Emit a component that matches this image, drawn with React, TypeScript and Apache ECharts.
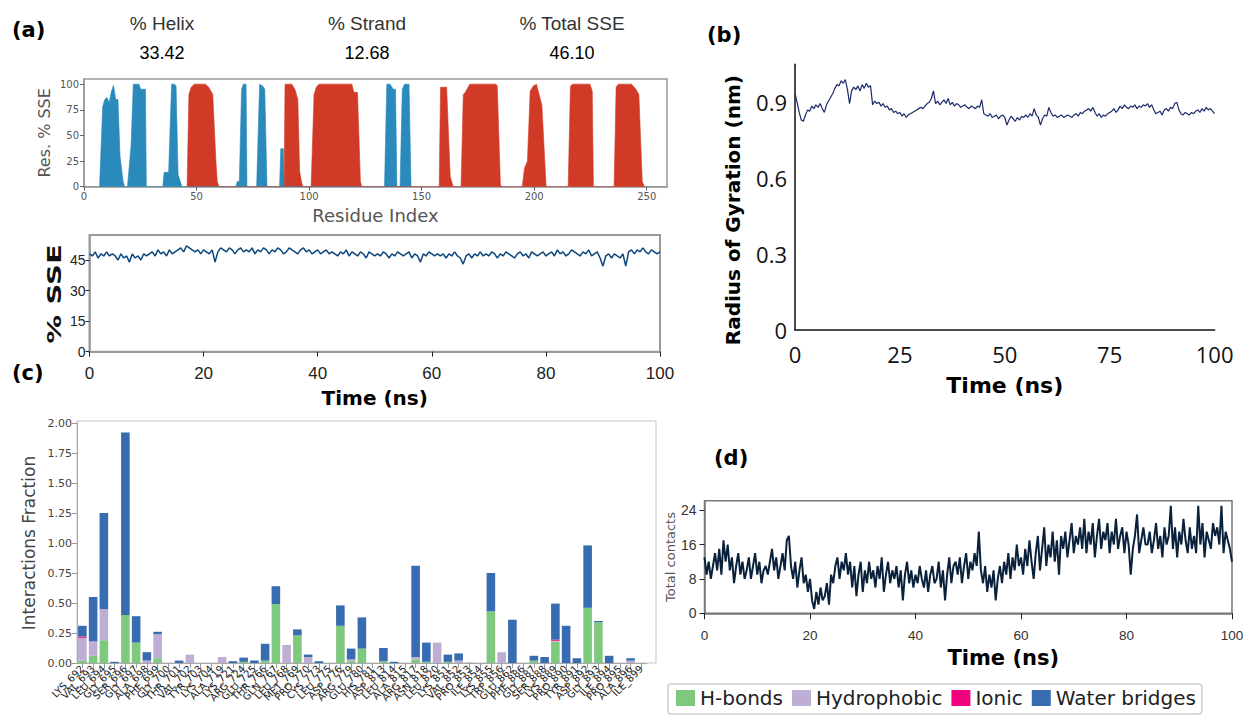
import React, { useEffect, useRef } from "react";
import * as echarts from "echarts";

// ---------- Panel (a): per-residue secondary structure profile ----------
const HELIX_PROFILE: [number, number][] = [
  [6.9, 0], [8.3, 78], [9.2, 85], [10.2, 87], [11.2, 82], [12.2, 93], [13.1, 99], [14.1, 85], [15.1, 85], [16, 30], [17.4, 5], [18, 0],
  [19.3, 0], [20.9, 40], [21.9, 100], [24.4, 100], [25.2, 95], [27.3, 95], [27.7, 0],
  [35, 0], [35.6, 14], [37.6, 14], [38.9, 100], [40.2, 100], [40.9, 98], [41.8, 12], [43.5, 0],
  [67.5, 0], [68.1, 5], [69, 5], [70, 95], [70.8, 100], [72, 100], [72.4, 0],
  [76.7, 0], [78, 100], [79.5, 98], [80.3, 95], [81.3, 0],
  [86.9, 0], [87.4, 37], [88.6, 37], [88.9, 0],
  [133.5, 0], [134.5, 100], [136, 100], [137.4, 95], [138.4, 95], [139, 0],
  [140.4, 0], [141.4, 95], [142.4, 100], [144.4, 100], [145.3, 0],
];

const STRAND_PROFILE: [number, number][] = [
  [45.8, 0], [46.6, 90], [47.6, 97], [49, 100], [54, 100], [55.4, 97], [57.2, 90], [58.6, 25], [59.2, 5], [60, 0],
  [88.9, 0], [89.3, 100], [92.3, 100], [93.7, 95], [95, 85], [95.8, 15], [96.6, 5], [97.2, 0],
  [100.9, 0], [102.2, 90], [103.2, 97], [104.4, 100], [119, 100], [119.9, 92], [121.5, 92], [122.8, 5], [123.4, 0],
  [157.8, 0], [158.4, 97], [161.1, 97], [162.7, 10], [164, 0],
  [167.5, 0], [168.5, 90], [169.4, 92], [171.4, 100], [183, 100], [183.6, 98], [185, 2], [185.6, 0],
  [194.7, 0], [195.7, 18], [197, 25], [198.2, 93], [199.5, 98], [201, 100], [202.4, 88], [203.4, 80], [205.3, 0],
  [215.1, 0], [216.1, 98], [217, 100], [224.8, 100], [225.8, 93], [226.3, 0],
  [235.5, 0], [236.4, 97], [237.4, 100], [243.2, 100], [245.2, 95], [246.5, 90], [248, 5], [249, 0],
];

const SSE_SUMMARY_LABELS = ["% Helix", "% Strand", "% Total SSE"];
const SSE_SUMMARY_VALUES = ["33.42", "12.68", "46.10"];

// ---------- Panel (a): total % SSE over the trajectory ----------
const SSE_TIME_STEP = 0.5;
const SSE_PERCENT = [
  48, 47, 49, 46, 48, 47, 49, 47, 48,
  47, 45, 48, 46, 47, 44, 48, 46, 47, 45, 48, 47,
  48, 49, 47, 50, 48, 49, 47, 50, 48, 49,
  50, 51, 49, 52, 51, 50,
  49, 50, 48, 50, 49, 48, 50, 44,
  49, 51, 50, 49, 51, 50, 48, 50, 51, 49,
  50, 49, 51, 48, 50, 49, 51, 50, 48, 50, 49, 51, 50, 48, 49, 51, 50, 49, 48, 50, 51, 49, 50, 48, 49, 50, 48, 49, 50, 48,
  49, 48, 47, 49, 48, 50, 47, 49, 48, 47, 49, 48, 46, 49, 48, 47,
  48, 47, 49, 48, 46, 48, 47, 49, 48, 47, 48, 49, 46, 48, 47, 44, 48, 47, 49, 48, 47, 48,
  47, 48, 46, 48, 47, 49, 47, 46, 43, 47, 48, 46, 48, 47, 49, 47,
  48, 47, 49, 48, 46, 48, 47, 49, 48, 47, 46, 48, 49, 47, 48, 46, 49, 48, 47, 48, 49, 47,
  48, 49, 47, 50, 48, 49, 47, 48, 50, 49, 48, 47, 49, 48, 50, 47, 48, 49, 46, 42,
  47, 48, 46, 48, 47, 46, 48, 42,
  49, 50, 48, 50, 49, 51, 49, 48, 50, 49, 48, 49,
];

// ---------- Panel (b): radius of gyration ----------
const RG_TIME_STEP = 0.5;
const RG_NM = [
  0.935, 0.9, 0.86, 0.83, 0.825, 0.85, 0.87, 0.865, 0.885, 0.875,
  0.89, 0.88, 0.895, 0.875, 0.86, 0.89, 0.905, 0.92, 0.935, 0.955,
  0.97, 0.965, 0.985, 0.975, 0.99, 0.95, 0.895, 0.945, 0.96, 0.95,
  0.965, 0.945, 0.97, 0.955, 0.975, 0.96, 0.965, 0.89, 0.905, 0.895,
  0.9, 0.885, 0.895, 0.88, 0.885, 0.87, 0.875, 0.86, 0.865, 0.855,
  0.86, 0.845, 0.855, 0.84, 0.85, 0.855, 0.86, 0.865, 0.87, 0.875,
  0.88, 0.875, 0.885, 0.895, 0.9, 0.915, 0.945, 0.895, 0.905, 0.89,
  0.9, 0.91, 0.895, 0.915, 0.89, 0.9, 0.885, 0.895, 0.89, 0.88,
  0.885, 0.89, 0.88, 0.875, 0.885, 0.88, 0.875, 0.885, 0.88, 0.91,
  0.855, 0.85, 0.845, 0.855, 0.84, 0.845, 0.85, 0.835, 0.845, 0.85,
  0.84, 0.81, 0.83, 0.845, 0.835, 0.825, 0.84, 0.83, 0.845, 0.84,
  0.85, 0.84, 0.855, 0.845, 0.875, 0.85, 0.84, 0.81, 0.835, 0.85,
  0.845, 0.88, 0.86, 0.845, 0.85, 0.84, 0.845, 0.85, 0.84, 0.845,
  0.85, 0.845, 0.84, 0.85, 0.855, 0.845, 0.86, 0.855, 0.865, 0.87,
  0.875, 0.865, 0.88, 0.86, 0.845, 0.855, 0.84, 0.85, 0.845, 0.855,
  0.86, 0.865, 0.875, 0.86, 0.87, 0.885, 0.875, 0.89, 0.88, 0.875,
  0.885, 0.88, 0.89, 0.875, 0.885, 0.88, 0.89, 0.885, 0.895, 0.88,
  0.89, 0.87, 0.855, 0.86, 0.865, 0.85, 0.87, 0.875, 0.865, 0.88,
  0.875, 0.895, 0.9, 0.87, 0.855, 0.85, 0.86, 0.855, 0.85, 0.86,
  0.855, 0.865, 0.87, 0.86, 0.875, 0.865, 0.88, 0.87, 0.875, 0.865,
  0.855,
];

// ---------- Panel (c): protein–ligand interaction fractions ----------
const RESIDUES = [
  "LYS_692", "VAL_693", "LEU_694", "GLY_695", "SER_696", "GLY_697", "ALA_698", "PHE_699", "GLY_700", "THR_701",
  "VAL_702", "TYR_703", "LYS_704", "ALA_719", "LYS_721", "ARG_724", "GLU_725", "THR_766", "GLN_767", "LEU_768",
  "MET_769", "PRO_770", "CYS_773", "LEU_775", "ASP_776", "ARG_779", "GLU_780", "HIS_781", "ASP_813", "LEU_814",
  "ALA_815", "ARG_817", "ASN_818", "LEU_820", "LYS_851", "VAL_852", "PRO_853", "ILE_854", "LYS_855", "TRP_856",
  "GLU_862", "PHE_886", "GLY_887", "SER_888", "LYS_889", "PRO_890", "TYR_891", "ASP_892", "GLY_893", "ILE_894",
  "PRO_895", "ALA_896", "ILE_899",
];
const HBONDS = [
  0.02, 0.06, 0.19, 0, 0.4, 0.17, 0, 0.04, 0, 0,
  0, 0, 0, 0, 0, 0.01, 0, 0.02, 0.49, 0,
  0.23, 0, 0, 0, 0.31, 0.015, 0.12, 0, 0.015, 0,
  0, 0.03, 0.01, 0, 0.01, 0, 0, 0, 0.43, 0,
  0, 0, 0.02, 0, 0.18, 0, 0, 0.46, 0.34, 0,
  0, 0, 0,
];
const HYDROPHOBIC = [
  0.19, 0.12, 0.26, 0, 0, 0, 0.02, 0.2, 0, 0,
  0.07, 0, 0, 0.05, 0, 0, 0, 0, 0, 0.15,
  0, 0.05, 0, 0, 0, 0.015, 0, 0, 0, 0,
  0, 0.02, 0, 0.17, 0, 0.02, 0.005, 0, 0, 0.09,
  0, 0, 0, 0, 0.005, 0, 0, 0, 0, 0,
  0, 0.02, 0,
];
const IONIC = [
  0.01, 0, 0, 0, 0, 0, 0, 0, 0, 0,
  0, 0, 0, 0, 0, 0, 0, 0, 0, 0,
  0, 0, 0, 0, 0, 0, 0, 0, 0, 0,
  0, 0, 0, 0, 0, 0, 0, 0, 0, 0,
  0, 0, 0, 0, 0.01, 0, 0, 0, 0, 0,
  0, 0, 0,
];
const WATER_BRIDGES = [
  0.09, 0.37, 0.8, 0.01, 1.52, 0.22, 0.07, 0.02, 0, 0.02,
  0, 0, 0, 0, 0.015, 0.035, 0.02, 0.14, 0.15, 0,
  0.05, 0.02, 0.015, 0, 0.17, 0.09, 0.26, 0, 0.11, 0.01,
  0, 0.76, 0.16, 0, 0.06, 0.06, 0, 0, 0.32, 0,
  0.36, 0, 0.04, 0.05, 0.3, 0.31, 0.04, 0.52, 0.01, 0.06,
  0, 0.02, 0,
];

// ---------- Panel (d): total protein–ligand contacts ----------
const CONTACT_TIME_STEP = 0.4;
const TOTAL_CONTACTS = [
  13, 9, 12, 8, 11, 14, 10, 15, 9, 17,
  12, 16, 10, 13, 7, 11, 14, 9, 12, 8,
  10, 13, 8, 11, 14, 9, 12, 7, 10, 11,
  9, 12, 15, 10, 13, 8, 11, 14, 10, 17,
  18, 11, 8, 12, 6, 10, 13, 7, 9, 5,
  8, 3, 1, 5, 2, 6, 3, 4, 7, 2,
  9, 7, 11, 13, 8, 12, 10, 14, 9, 12,
  6, 11, 4, 9, 12, 5, 10, 7, 12, 8,
  10, 6, 11, 8, 13, 5, 9, 12, 7, 10,
  8, 11, 6, 10, 3, 9, 12, 7, 10, 6,
  9, 7, 11, 8, 6, 10, 5, 9, 11, 7,
  8, 12, 6, 10, 3, 9, 13, 7, 11, 12,
  9, 13, 7, 11, 14, 8, 12, 10, 14, 11,
  19, 10, 7, 11, 5, 9, 6, 10, 3, 8,
  11, 7, 12, 9, 14, 8, 13, 10, 16, 11,
  13, 9, 15, 11, 17, 12, 8, 14, 18, 10,
  15, 20, 11, 16, 13, 19, 12, 17, 9, 18,
  15, 19, 13, 17, 21, 14, 18, 16, 20, 15,
  22, 14, 19, 16, 21, 13, 18, 22, 15, 19,
  17, 21, 14, 19, 16, 22, 15, 18, 20, 14,
  19, 16, 9, 15, 18, 23, 14, 17, 20, 16,
  16, 19, 14, 17, 21, 15, 18, 13, 20, 16,
  18, 25, 15, 20, 13, 19, 16, 22, 17, 14,
  20, 15, 18, 14, 25, 16, 21, 13, 19, 17,
  15, 21, 18, 20, 16, 25, 14, 19, 17, 15,
  12,
];

// ---------- styling ----------
const DEJAVU = "'DejaVu Sans', sans-serif";
const ARIAL = "'Liberation Sans', Arial, sans-serif";
const TICK_FONT = "'Liberation Sans', Arial, sans-serif";
const CALIBRI_LIKE = "'Open Sans', 'Noto Sans', sans-serif";

const HELIX_COLOR = "#2a8abb";
const STRAND_COLOR = "#d13a26";
const BAR_COLORS = ["#7fc97f", "#beaed4", "#f0027f", "#386cb0"];

const toSeries = (values: number[], step: number) => values.map((v, i) => [i * step, v]);

function buildOption(): echarts.EChartsCoreOption {
  const noSplit = { show: false };

  const summaryX = [162, 367, 572];
  const graphics: any[] = [
    { type: "text", x: 12, y: 30, style: { text: "(a)", font: `bold 21px ${DEJAVU}`, fill: "#000", align: "left", verticalAlign: "middle" } },
    { type: "text", x: 707, y: 35, style: { text: "(b)", font: `bold 21px ${DEJAVU}`, fill: "#000", align: "left", verticalAlign: "middle" } },
    { type: "text", x: 12, y: 373, style: { text: "(c)", font: `bold 21px ${DEJAVU}`, fill: "#000", align: "left", verticalAlign: "middle" } },
    { type: "text", x: 714, y: 458, style: { text: "(d)", font: `bold 21px ${DEJAVU}`, fill: "#000", align: "left", verticalAlign: "middle" } },
    {
      type: "text", x: 54.5, y: 294, rotation: Math.PI / 2, scaleX: 1.45,
      style: { text: "% SSE", font: `bold 20px ${DEJAVU}`, fill: "#111", align: "center", verticalAlign: "middle" },
    },
    // frame of the interaction panel
    { type: "rect", shape: { x: 77, y: 421, width: 579, height: 242 }, style: { fill: "none", stroke: "#c4c4c4", lineWidth: 1 }, z: 0 },
  ];
  SSE_SUMMARY_LABELS.forEach((label, i) => {
    graphics.push({ type: "text", x: summaryX[i], y: 23, style: { text: label, font: `19px ${ARIAL}`, fill: "#333", align: "center", verticalAlign: "middle" } });
    graphics.push({ type: "text", x: summaryX[i], y: 53, style: { text: SSE_SUMMARY_VALUES[i], font: `18px ${ARIAL}`, fill: "#000", align: "center", verticalAlign: "middle" } });
  });

  return {
    animation: false,
    backgroundColor: "#ffffff",
    textStyle: { fontFamily: DEJAVU },
    graphic: graphics,
    legend: {
      data: ["H-bonds", "Hydrophobic", "Ionic", "Water bridges"],
      left: 668,
      top: 684,
      orient: "horizontal",
      icon: "rect",
      itemWidth: 19,
      itemHeight: 16,
      itemGap: 9,
      selectedMode: false,
      padding: [4, 6, 6, 8],
      borderColor: "#cfcfcf",
      borderWidth: 1.5,
      borderRadius: 3,
      backgroundColor: "#fff",
      textStyle: { fontSize: 20, color: "#222", fontFamily: DEJAVU },
    },
    grid: [
      { left: 84, top: 79, width: 583, height: 107.7, show: true, borderColor: "#9a9a9a", borderWidth: 1.5, outerBoundsMode: "none" },
      { left: 89.5, top: 235, width: 570.5, height: 116.7, show: true, borderColor: "#9a9a9a", borderWidth: 2, outerBoundsMode: "none" },
      { left: 795, top: 64.35, width: 419.6, height: 265.65, show: false, outerBoundsMode: "none" },
      { left: 77, top: 423, width: 569.75, height: 240, show: false, outerBoundsMode: "none" },
      { left: 704.5, top: 500.7, width: 527.5, height: 112.6, show: true, borderColor: "#777", borderWidth: 1.5, outerBoundsMode: "none" },
    ],
    xAxis: [
      {
        gridIndex: 0, type: "value", min: 0, max: 259, interval: 50,
        name: "Residue Index", nameLocation: "middle", nameGap: 20,
        nameTextStyle: { fontSize: 18, color: "#555" },
        axisLine: { show: true, onZero: false, lineStyle: { color: "#9a9a9a", width: 1.5 } },
        axisTick: { show: true, length: 4, lineStyle: { color: "#666" } },
        axisLabel: { fontSize: 10, color: "#555", margin: 5, showMaxLabel: false },
        splitLine: noSplit,
      },
      {
        gridIndex: 1, type: "value", min: 0, max: 100, interval: 20,
        name: "Time (ns)", nameLocation: "middle", nameGap: 36,
        nameTextStyle: { fontSize: 20, fontWeight: "bold", color: "#000" },
        axisLine: { show: true, onZero: false, lineStyle: { color: "#9a9a9a", width: 2 } },
        axisTick: { show: true, length: 5, lineStyle: { color: "#222" } },
        axisLabel: { fontSize: 17, color: "#222", margin: 13, fontFamily: TICK_FONT },
        splitLine: noSplit,
      },
      {
        gridIndex: 2, type: "value", min: 0, max: 100, interval: 25,
        name: "Time (ns)", nameLocation: "middle", nameGap: 44,
        nameTextStyle: { fontSize: 22, fontWeight: "bold", color: "#000" },
        axisLine: { show: true, onZero: false, lineStyle: { color: "#111", width: 1.5 } },
        axisTick: { show: false },
        axisLabel: { fontSize: 22, color: "#111", margin: 13, fontFamily: CALIBRI_LIKE },
        splitLine: noSplit,
      },
      {
        gridIndex: 3, type: "category", data: RESIDUES, boundaryGap: true,
        axisLine: { show: true, lineStyle: { color: "#aaa" } },
        axisTick: { show: true, alignWithLabel: true, interval: 0, length: 5, lineStyle: { color: "#999" } },
        axisLabel: { rotate: 45, interval: 0, fontSize: 10, color: "#222", margin: 4 },
        splitLine: noSplit,
      },
      {
        gridIndex: 4, type: "value", min: 0, max: 100, interval: 20,
        name: "Time (ns)", nameLocation: "middle", nameGap: 34,
        nameTextStyle: { fontSize: 21, fontWeight: "bold", color: "#000", padding: [0, 0, 0, 70] },
        axisLine: { show: true, onZero: false, lineStyle: { color: "#777", width: 1.5 } },
        axisTick: { show: true, length: 6, lineStyle: { color: "#222" } },
        axisLabel: { fontSize: 13.5, color: "#333", margin: 15, fontFamily: TICK_FONT },
        splitLine: noSplit,
      },
    ],
    yAxis: [
      {
        gridIndex: 0, type: "value", min: 0, max: 105, interval: 25,
        name: "Res. % SSE", nameLocation: "middle", nameGap: 32,
        nameTextStyle: { fontSize: 16, color: "#555" },
        axisLine: { show: true, lineStyle: { color: "#9a9a9a", width: 1.5 } },
        axisTick: { show: true, length: 4, lineStyle: { color: "#666" } },
        axisLabel: { fontSize: 10, color: "#555", margin: 5, showMaxLabel: false },
        splitLine: noSplit,
      },
      {
        gridIndex: 1, type: "value", min: 0, max: 57.3, interval: 15,
        axisLine: { show: true, lineStyle: { color: "#9a9a9a", width: 1.5 } },
        axisTick: { show: true, length: 4, lineStyle: { color: "#222" } },
        axisLabel: { fontSize: 14, color: "#222", margin: 4, fontFamily: TICK_FONT, showMaxLabel: false },
        splitLine: noSplit,
      },
      {
        gridIndex: 2, type: "value", min: 0, max: 1.05, interval: 0.3,
        name: "Radius of Gyration (nm)", nameLocation: "middle", nameGap: 52,
        nameTextStyle: { fontSize: 20, fontWeight: "bold", color: "#000", padding: [0, 26, 0, 0] },
        axisLine: { show: true, lineStyle: { color: "#111", width: 1.5 } },
        axisTick: { show: false },
        axisLabel: { fontSize: 22, color: "#111", margin: 8, fontFamily: CALIBRI_LIKE, showMaxLabel: false },
        splitLine: noSplit,
      },
      {
        gridIndex: 3, type: "value", min: 0, max: 2, interval: 0.25,
        name: "Interactions Fraction", nameLocation: "middle", nameGap: 40,
        nameTextStyle: { fontSize: 17, color: "#444" },
        axisLine: { show: true, lineStyle: { color: "#aaa" } },
        axisTick: { show: true, length: 5, lineStyle: { color: "#999" } },
        axisLabel: { fontSize: 11, color: "#444", margin: 5, formatter: (v: number) => v.toFixed(2) },
        splitLine: noSplit,
      },
      {
        gridIndex: 4, type: "value", min: 0, max: 26.2, interval: 8,
        name: "Total contacts", nameLocation: "middle", nameGap: 28,
        nameTextStyle: { fontSize: 13, color: "#555" },
        axisLine: { show: true, lineStyle: { color: "#777", width: 1.5 } },
        axisTick: { show: true, length: 5, lineStyle: { color: "#222" } },
        axisLabel: { fontSize: 14, color: "#333", margin: 8, fontFamily: TICK_FONT, showMaxLabel: false },
        splitLine: noSplit,
      },
    ],
    series: [
      {
        name: "Helix", type: "line", xAxisIndex: 0, yAxisIndex: 0, data: HELIX_PROFILE,
        symbol: "none", lineStyle: { width: 0.6, color: HELIX_COLOR }, areaStyle: { color: HELIX_COLOR, opacity: 1 },
      },
      {
        name: "Strand", type: "line", xAxisIndex: 0, yAxisIndex: 0, data: STRAND_PROFILE,
        symbol: "none", lineStyle: { width: 0.6, color: STRAND_COLOR }, areaStyle: { color: STRAND_COLOR, opacity: 1 },
      },
      {
        name: "% SSE", type: "line", xAxisIndex: 1, yAxisIndex: 1, data: toSeries(SSE_PERCENT, SSE_TIME_STEP),
        symbol: "none", lineStyle: { width: 1.5, color: "#0c467c" },
      },
      {
        name: "Rg", type: "line", xAxisIndex: 2, yAxisIndex: 2, data: toSeries(RG_NM, RG_TIME_STEP),
        symbol: "none", lineStyle: { width: 1.2, color: "#1b2a6b" },
      },
      ...[
        ["H-bonds", HBONDS],
        ["Hydrophobic", HYDROPHOBIC],
        ["Ionic", IONIC],
        ["Water bridges", WATER_BRIDGES],
      ].map(([name, values], i) => ({
        name: name as string, type: "bar", xAxisIndex: 3, yAxisIndex: 3, stack: "interactions",
        data: values as number[], barWidth: 8.6, itemStyle: { color: BAR_COLORS[i] },
      })),
      {
        name: "Contacts", type: "line", xAxisIndex: 4, yAxisIndex: 4, data: toSeries(TOTAL_CONTACTS, CONTACT_TIME_STEP),
        symbol: "none", lineStyle: { width: 2, color: "#0a213c" },
      },
    ],
  };
}

export default function App() {
  const ref = useRef<HTMLDivElement>(null);
  useEffect(() => {
    document.body.style.margin = "0";
    if (!ref.current) return;
    const chart = echarts.init(ref.current, null, { renderer: "svg" });
    chart.setOption(buildOption());
    return () => chart.dispose();
  }, []);
  return <div ref={ref} style={{ width: 1243, height: 715, background: "#fff" }} />;
}
